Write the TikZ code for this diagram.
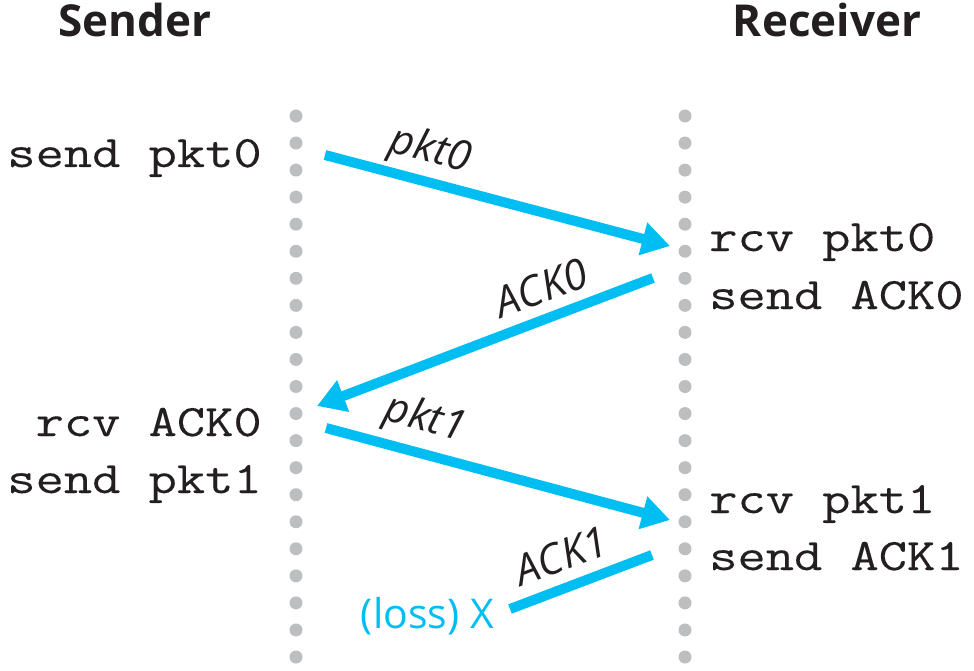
\documentclass[tikz,border=0pt]{standalone}
\usepackage{fontspec}
\setmainfont{Open Sans}
\setmonofont[FakeStretch=1.22,FakeBold=0.25]{Latin Modern Mono}
\usetikzlibrary{arrows.meta,positioning,calc}
\definecolor{pktblue}{RGB}{0,190,242}
\definecolor{ink}{RGB}{35,31,32}
\definecolor{dotgray}{RGB}{188,190,192}

\begin{document}
\begin{tikzpicture}
    [x=1pt, y=-1pt,
    head/.style={font=\bfseries\fontsize{44}{48}\selectfont, text=ink, inner sep=0pt},
    action/.style={font=\ttfamily\fontsize{45}{56}\selectfont, text=ink, inner sep=0pt},
    msg/.style={font=\itshape\fontsize{42}{46}\selectfont, text=ink, inner sep=0pt},
    loss note/.style={font=\fontsize{41}{44}\selectfont, text=pktblue, inner sep=0pt},
    arrow/.style={draw=pktblue, line width=10pt, -{Triangle[length=28pt,width=32pt]}},
    lost arrow/.style={draw=pktblue, line width=10pt},
    timeline dot/.style={fill=dotgray}]

    \useasboundingbox (0,0) rectangle (974,671);

    %%% content
    \node (sender) [head, anchor=base] at (135,37) {Sender};
    \node (receiver) [head, anchor=base] at (827,37) {Receiver};

    \foreach \i in {0,...,20} {
        \fill[timeline dot] (296,{116+27.05*\i}) circle (6.5pt);
        \fill[timeline dot] (685,{116+27.05*\i}) circle (6.5pt);
    }

    \node (send pkt0) [action, anchor=base east] at (262,167) {send pkt0};
    \node (rcv ACK0) [action, anchor=base east] at (262,436) {rcv ACK0};
    \node (send pkt1) [action, anchor=base east] at ([yshift=-57pt]rcv ACK0.base east) {send pkt1};

    \node (rcv pkt0) [action, anchor=base west] at (709,251) {rcv pkt0};
    \node (send ACK0) [action, anchor=base west] at ([yshift=-58pt]rcv pkt0.base west) {send ACK0};
    \node (rcv pkt1) [action, anchor=base west] at (709,513) {rcv pkt1};
    \node (send ACK1) [action, anchor=base west] at ([yshift=-57pt]rcv pkt1.base west) {send ACK1};

    \coordinate (pkt0 out) at (325,155);
    \coordinate (pkt0 in) at (670,246);
    \coordinate (ACK0 out) at (653,278);
    \coordinate (ACK0 in) at (317,406);
    \coordinate (pkt1 out) at (326,428);
    \coordinate (pkt1 in) at (670,520);
    \coordinate (ACK1 out) at (652,555);
    \coordinate (ACK1 lost) at (510,609);

    %% lines
    \draw[arrow] (pkt0 out) -- (pkt0 in);
    \draw[arrow] (ACK0 out) -- (ACK0 in);
    \draw[arrow] (pkt1 out) -- (pkt1 in);
    \draw[lost arrow] (ACK1 out) -- (ACK1 lost);

    \node (pkt0 label) [msg, rotate=-14.8] at (430,151) {pkt0};
    \node (ACK0 label) [msg, rotate=20.6] at (541,288) {ACK0};
    \node (pkt1 label) [msg, rotate=-15] at (425,420) {pkt1};
    \node (ACK1 label) [msg, rotate=20.5] at (561,556) {ACK1};
    \node (loss) [loss note, anchor=base east] at (494,628) {(loss) X};
\end{tikzpicture}
\end{document}
